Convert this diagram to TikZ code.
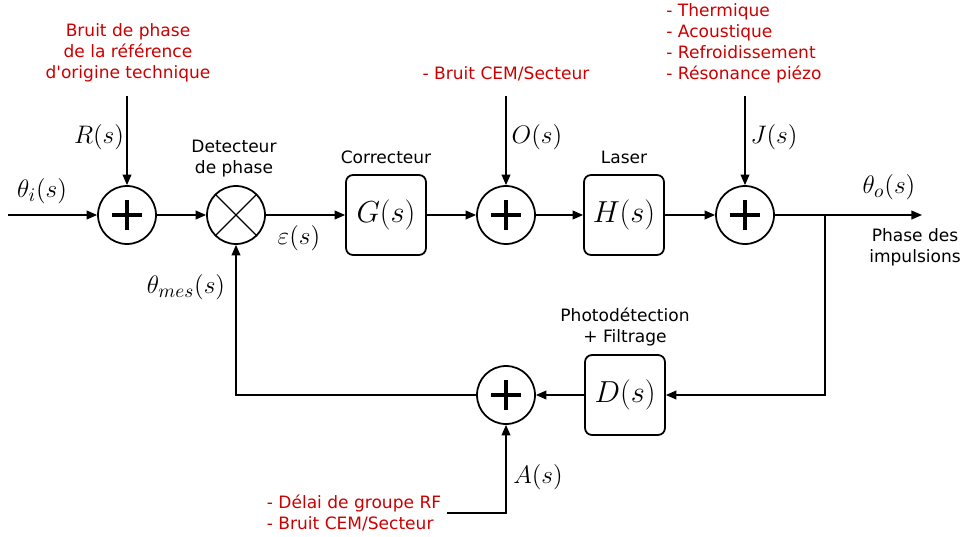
\documentclass[tikz,border=0pt]{standalone}
\usepackage{fontspec}
\setmainfont{DejaVu Sans}
\usetikzlibrary{arrows.meta}
\definecolor{noisered}{RGB}{204,0,0}

\begin{document}
\begin{tikzpicture}[x=0.02cm,y=-0.02cm,
  sum/.style={draw,circle,line width=1pt,minimum size=1.16cm,inner sep=0pt},
  box/.style={draw,rounded corners=4pt,line width=1pt,minimum size=1.6cm,
    font=\fontsize{18.5}{22}\selectfont},
  lbl/.style={font=\fontsize{9.7}{11.9}\selectfont,align=center},
  noise/.style={lbl,text=noisered},
  sig/.style={font=\fontsize{15.5}{18}\selectfont},
  wire/.style={line width=0.8pt},
  arr/.style={wire,-{Triangle[length=6pt,width=5pt]}},
  plus/.style={line width=2.4pt}]
  \useasboundingbox (0,0) rectangle (963,537);
  % ---------- forward path ----------
  \coordinate (in) at (8,215);
  \node[sum] (sumR) at (127,215) {};
  \node[sum] (detect) at (236,215) {};
  \node[box] (corr) at (386,215) {$G(s)$};
  \node[sum] (sumO) at (506,215) {};
  \node[box] (laser) at (624,215) {$H(s)$};
  \node[sum] (sumJ) at (745,215) {};
  \coordinate (br) at (825,215);
  \coordinate (out) at (922,215);
  % ---------- feedback path ----------
  \node[box] (photo) at (625,395) {$D(s)$};
  \node[sum] (sumA) at (506,395) {};
  % plus signs and mixer cross
  \foreach \s in {sumR,sumO,sumJ,sumA}
    \draw[plus] (\s) ++(-15,0) -- ++(30,0) (\s) ++(0,-15) -- ++(0,30);
  \draw[wire] (detect.north west) -- (detect.south east)
              (detect.north east) -- (detect.south west);
  % ---------- block titles ----------
  \node[lbl] (tdet) at (234,159) {Detecteur\\de phase};
  \node[lbl] (tcorr) at (386,157) {Correcteur};
  \node[lbl] (tlaser) at (624,157) {Laser};
  \node[lbl] (tphoto) at (625,327) {Photodétection\\+ Filtrage};
  \node[lbl] (tout) at (915,247) {Phase des\\impulsions};
  % ---------- noise sources ----------
  \node[noise] (nR) at (128,53) {Bruit de phase\\de la référence\\d\textquotesingle origine technique};
  \node[noise] (nO) at (506,74) {- Bruit CEM/Secteur};
  \node[noise,align=left] (nJ) at (744,43) {- Thermique\\- Acoustique\\- Refroidissement\\- Résonance piézo};
  \node[noise,align=left] (nA) at (354,513) {- Délai de groupe RF\\- Bruit CEM/Secteur};
  \coordinate (inR) at (127,96);
  \coordinate (inO) at (506,96);
  \coordinate (inJ) at (745,96);
  % ---------- signal labels ----------
  \node[sig] at (42,191) {$\theta_i(s)$};
  \node[sig] at (99,137) {$R(s)$};
  \node[sig] at (299,238) {$\varepsilon(s)$};
  \node[sig] at (537,137) {$O(s)$};
  \node[sig] at (774,137) {$J(s)$};
  \node[sig] at (889,187) {$\theta_o(s)$};
  \node[sig] at (186,287) {$\theta_{mes}(s)$};
  \node[sig] at (538,477) {$A(s)$};
  % ---------- connectors ----------
  \draw[arr] (in) -- (sumR);
  \draw[arr] (sumR) -- (detect);
  \draw[arr] (detect) -- (corr);
  \draw[arr] (corr) -- (sumO);
  \draw[arr] (sumO) -- (laser);
  \draw[arr] (laser) -- (sumJ);
  \draw[arr] (sumJ) -- (out);
  \draw[arr] (br) |- (photo.east);
  \draw[arr] (photo) -- (sumA);
  \draw[arr] (sumA.west) -| (detect.south);
  \draw[arr] (inR) -- (sumR);
  \draw[arr] (inO) -- (sumO);
  \draw[arr] (inJ) -- (sumJ);
  \draw[arr] (nA.east) -| (sumA.south);
\end{tikzpicture}
\end{document}
